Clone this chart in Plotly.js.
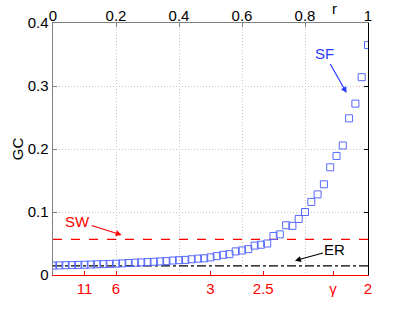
<!DOCTYPE html>
<html>
<head>
<meta charset="utf-8">
<script src="https://cdn.plot.ly/plotly-3.0.1.min.js"></script>
<style>html,body{margin:0;padding:0;background:#fff;}#chart{width:407px;height:310px;}</style>
</head>
<body>
<div id="chart"></div>
<script>
// r values (top axis)
const rValues = [0.00,0.02,0.04,0.06,0.08,0.10,0.12,0.14,0.16,0.18,0.20,0.22,0.24,0.26,0.28,0.30,0.32,0.34,0.36,0.38,0.40,0.42,0.44,0.46,0.48,0.50,0.52,0.54,0.56,0.58,0.60,0.62,0.64,0.66,0.68,0.70,0.72,0.74,0.76,0.78,0.80,0.82,0.84,0.86,0.88,0.90,0.92,0.94,0.96,0.98,1.00];
// GC of SF networks
const gcSF = [0.0150,0.0152,0.0155,0.0158,0.0160,0.0163,0.0166,0.0170,0.0173,0.0176,0.0180,0.0184,0.0190,0.0196,0.0200,0.0205,0.0210,0.0215,0.0220,0.0230,0.0235,0.0240,0.0250,0.0260,0.0265,0.0280,0.0300,0.0320,0.0330,0.0375,0.0390,0.0410,0.0466,0.0480,0.0500,0.0620,0.0645,0.0790,0.0780,0.0890,0.1000,0.1160,0.1280,0.1440,0.1710,0.1890,0.2056,0.2487,0.2720,0.3140,0.3650];
const gcSW = 0.0567;
const gcER = 0.0145;
// bottom axis (gamma) ticks
const gammaTickPos = [0.1, 0.2, 0.5, 0.667, 0.889, 1.0];
const gammaTickText = ['11', '6', '3', '2.5', 'γ', '2'];
const topTicks = [0, 0.2, 0.4, 0.6, 0.8, 1];
const topTickText = ['0', '0.2', '0.4', '0.6', '0.8', '1'];
const yTicks = [0, 0.1, 0.2, 0.3, 0.4];
const yTickText = ['0', '0.1', '0.2', '0.3', '0.4'];

const font = 'Liberation Sans, Arial, Helvetica, sans-serif';
const fs = 15;

const traces = [
  {x: [0, 1], y: [gcSW, gcSW], mode: 'lines', line: {color: '#ff0000', dash: 'dash', width: 1.2}, xaxis: 'x', yaxis: 'y', hoverinfo: 'skip'},
  {x: [0, 1], y: [gcER, gcER], mode: 'lines', line: {color: '#000000', dash: 'dashdot', width: 1.2}, xaxis: 'x', yaxis: 'y', hoverinfo: 'skip'},
  {x: rValues, y: gcSF, mode: 'markers', xaxis: 'x', yaxis: 'y',
   marker: {symbol: 'square-open', size: 7, color: 'rgb(85,105,255)', line: {width: 1, color: 'rgb(85,105,255)'}}},
  {x: [0, 1], y: [0, 0], mode: 'markers', marker: {opacity: 0}, xaxis: 'x2', yaxis: 'y2', hoverinfo: 'skip'}
];

const layout = {
  width: 407, height: 310,
  margin: {l: 53, r: 39, t: 23, b: 35},
  paper_bgcolor: '#fff', plot_bgcolor: '#fff',
  showlegend: false,
  font: {family: font, size: fs, color: '#000'},
  xaxis: {
    side: 'top', range: [0, 1], tickvals: topTicks, ticktext: topTickText,
    showline: true, linecolor: '#808080', linewidth: 1.5,
    ticks: 'inside', ticklen: 4, tickcolor: '#808080',
    showgrid: true, gridcolor: '#c4c4c4', griddash: '1px,2px', gridwidth: 1,
    zeroline: false, tickfont: {size: fs, color: '#000'}, ticklabelstandoff: -5
  },
  xaxis2: {
    overlaying: 'x', side: 'bottom', anchor: 'y', range: [0, 1],
    tickvals: gammaTickPos, ticktext: gammaTickText,
    showline: true, linecolor: '#ff0000', linewidth: 1.2,
    ticks: 'inside', ticklen: 4, tickcolor: '#ff0000',
    showgrid: false, zeroline: false, tickfont: {size: fs, color: '#ff0000'}
  },
  yaxis: {
    range: [0, 0.4], tickvals: yTicks, ticktext: yTickText,
    showline: true, linecolor: '#808080', linewidth: 1.5,
    ticks: 'inside', ticklen: 4, tickcolor: '#808080',
    showgrid: true, gridcolor: '#c4c4c4', griddash: '1px,2px', gridwidth: 1,
    zeroline: false, tickfont: {size: fs, color: '#000'}, ticklabelstandoff: 0,
    title: {text: 'GC', font: {size: fs, color: '#000'}, standoff: 0}
  },
  yaxis2: {
    overlaying: 'y', side: 'right', anchor: 'x', range: [0, 0.4], tickvals: yTicks,
    showline: true, linecolor: '#000', linewidth: 1.2,
    ticks: 'inside', ticklen: 4, tickcolor: '#000',
    showticklabels: false, showgrid: false, zeroline: false
  },
  annotations: [
    {xref: 'paper', yref: 'paper', x: 0.895, y: 1.058, text: 'r', showarrow: false, font: {size: fs, color: '#000'}, xanchor: 'center', yanchor: 'middle'},
    {x: 0.932, y: 0.289, xref: 'x', yref: 'y', text: 'SF', showarrow: true, ax: -22, ay: -39,
     arrowcolor: 'rgb(40,60,255)', arrowhead: 2, arrowsize: 1, arrowwidth: 1.2, font: {size: fs, color: 'rgb(40,60,255)'}},
    {x: 0.218, y: 0.0635, xref: 'x', yref: 'y', text: 'SW', showarrow: true, ax: -44, ay: -14,
     arrowcolor: '#ff0000', arrowhead: 2, arrowsize: 1, arrowwidth: 1.2, font: {size: fs, color: '#ff0000'}},
    {x: 0.768, y: 0.0227, xref: 'x', yref: 'y', text: 'ER', showarrow: true, ax: 40, ay: -11,
     arrowcolor: '#000', arrowhead: 2, arrowsize: 1, arrowwidth: 1.2, font: {size: fs, color: '#000'}}
  ]
};

Plotly.newPlot('chart', traces, layout, {displayModeBar: false, staticPlot: true});
</script>
</body>
</html>
